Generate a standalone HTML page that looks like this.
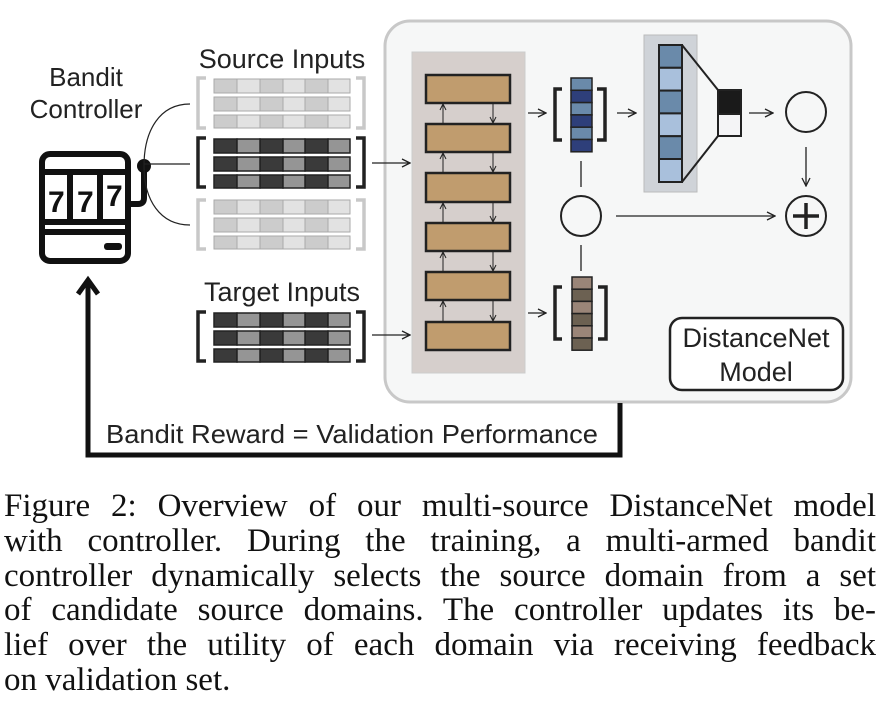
<!DOCTYPE html>
<html><head><meta charset="utf-8"><style>
body{margin:0;background:#fff;width:886px;height:728px;overflow:hidden;position:relative}
.cap{position:absolute;left:4px;top:489px;width:872px;font-family:"Liberation Serif",serif;font-size:33px;line-height:34.8px;color:#111}
.cap div{text-align:justify;text-align-last:justify;white-space:nowrap}
.cap div.l{text-align-last:left}
</style></head><body>
<svg width="886" height="480" style="position:absolute;left:0;top:0" font-family="Liberation Sans, sans-serif">
<defs>
<marker id="a" markerWidth="10" markerHeight="10" refX="9" refY="5" orient="auto" markerUnits="userSpaceOnUse"><path d="M1,1 L9,5 L1,9" fill="none" stroke="#222" stroke-width="1.3"/></marker>
<marker id="s" markerWidth="8" markerHeight="8" refX="7" refY="4" orient="auto" markerUnits="userSpaceOnUse"><path d="M1,1 L7,4 L1,7" fill="none" stroke="#222" stroke-width="1"/></marker>
</defs>
<rect x="385" y="21" width="466" height="381" rx="25" fill="#f6f7f7" stroke="#c8c8c8" stroke-width="3"/>
<rect x="412" y="52" width="113" height="321" fill="#d6cfcc" stroke="#ccc"/>
<g fill="#c09c6e" stroke="#222" stroke-width="2.5">
<rect x="426" y="75" width="84" height="28"/><rect x="426" y="124" width="84" height="28"/>
<rect x="426" y="173" width="84" height="29"/><rect x="426" y="223" width="84" height="28"/>
<rect x="426" y="272" width="84" height="28"/><rect x="426" y="322" width="84" height="28"/>
</g>
<g stroke="#222" stroke-width="1">
<line x1="443" y1="124" x2="443" y2="104" marker-end="url(#s)"/><line x1="493" y1="104" x2="493" y2="123" marker-end="url(#s)"/>
<line x1="443" y1="173" x2="443" y2="153" marker-end="url(#s)"/><line x1="493" y1="153" x2="493" y2="172" marker-end="url(#s)"/>
<line x1="443" y1="223" x2="443" y2="203" marker-end="url(#s)"/><line x1="493" y1="203" x2="493" y2="222" marker-end="url(#s)"/>
<line x1="443" y1="272" x2="443" y2="252" marker-end="url(#s)"/><line x1="493" y1="252" x2="493" y2="271" marker-end="url(#s)"/>
<line x1="443" y1="322" x2="443" y2="301" marker-end="url(#s)"/><line x1="493" y1="301" x2="493" y2="321" marker-end="url(#s)"/>
</g>
<g stroke="#222" stroke-width="1.3" fill="none">
<line x1="372" y1="163" x2="410" y2="163" marker-end="url(#a)"/>
<line x1="372" y1="335" x2="410" y2="335" marker-end="url(#a)"/>
<line x1="528" y1="113" x2="546" y2="113" marker-end="url(#a)"/>
<line x1="528" y1="313" x2="546" y2="313" marker-end="url(#a)"/>
<line x1="617" y1="113" x2="636" y2="113" marker-end="url(#a)"/>
<line x1="749" y1="113" x2="773" y2="113" marker-end="url(#a)"/>
<line x1="806" y1="147" x2="806" y2="186" marker-end="url(#a)"/>
<line x1="616" y1="216" x2="775" y2="216" marker-end="url(#a)"/>
<line x1="581" y1="161" x2="581" y2="187"/><line x1="581" y1="245" x2="581" y2="271"/>
</g>
<g stroke="#222" stroke-width="1.5">
<rect x="571" y="78" width="21" height="12.3" fill="#6a8aaa"/><rect x="571" y="90.3" width="21" height="12.3" fill="#2e3f7a"/>
<rect x="571" y="102.6" width="21" height="12.3" fill="#6a8aaa"/><rect x="571" y="114.9" width="21" height="12.3" fill="#2e3f7a"/>
<rect x="571" y="127.2" width="21" height="12.3" fill="#6a8aaa"/><rect x="571" y="139.5" width="21" height="12.3" fill="#2e3f7a"/>
<rect x="572" y="277" width="20" height="12.2" fill="#9a8578"/><rect x="572" y="289.2" width="20" height="12.2" fill="#6c6152"/>
<rect x="572" y="301.4" width="20" height="12.2" fill="#9a8578"/><rect x="572" y="313.6" width="20" height="12.2" fill="#6c6152"/>
<rect x="572" y="325.8" width="20" height="12.2" fill="#9a8578"/><rect x="572" y="338" width="20" height="12.2" fill="#6c6152"/>
</g>
<g stroke="#222" stroke-width="3.5" fill="none">
<path d="M562,89 H555 V140 H562"/><path d="M597,89 H605 V140 H597"/>
<path d="M562,287 H555 V339 H562"/><path d="M598,287 H606 V339 H598"/>
</g>
<rect x="644" y="35" width="53" height="157" fill="#cfd3d8" stroke="#bbb"/>
<g stroke="#222" stroke-width="2">
<rect x="659" y="45" width="23" height="22.8" fill="#6a8aaa"/><rect x="659" y="67.8" width="23" height="22.8" fill="#a9c0dc"/>
<rect x="659" y="90.6" width="23" height="22.8" fill="#6a8aaa"/><rect x="659" y="113.4" width="23" height="22.8" fill="#a9c0dc"/>
<rect x="659" y="136.2" width="23" height="22.8" fill="#6a8aaa"/><rect x="659" y="159" width="23" height="23" fill="#a9c0dc"/>
<line x1="682" y1="45" x2="718" y2="90"/><line x1="682" y1="182" x2="718" y2="136"/>
<rect x="718" y="90" width="23" height="24" fill="#1a1a1a"/><rect x="718" y="114" width="23" height="22" fill="#f4f4f6"/>
</g>
<g fill="none" stroke="#222" stroke-width="2">
<circle cx="806" cy="112" r="20"/><circle cx="806" cy="216" r="20"/><circle cx="581" cy="216" r="20"/>
</g>
<path d="M806,203 V229 M793,216 H819" stroke="#222" stroke-width="3.5"/>
<rect x="670" y="318" width="173" height="72" rx="12" fill="#fff" stroke="#222" stroke-width="2.5"/>
<text x="756" y="347" font-size="27" text-anchor="middle" fill="#222">DistanceNet</text>
<text x="756" y="381" font-size="27" text-anchor="middle" fill="#222">Model</text>
<text x="86" y="86" font-size="26" text-anchor="middle" fill="#222">Bandit</text>
<text x="86" y="118" font-size="26" text-anchor="middle" fill="#222">Controller</text>
<text x="282" y="68" font-size="27" text-anchor="middle" fill="#222">Source Inputs</text>
<text x="282" y="301" font-size="27" text-anchor="middle" fill="#222">Target Inputs</text>
<g id="lg" stroke="#aaa" stroke-width="1">
<g fill="#ccc"><rect x="214" y="79" width="23" height="14"/><rect x="260" y="79" width="23" height="14"/><rect x="305" y="79" width="23" height="14"/>
<rect x="214" y="97" width="23" height="14"/><rect x="260" y="97" width="23" height="14"/><rect x="305" y="97" width="23" height="14"/>
<rect x="214" y="115" width="23" height="13"/><rect x="260" y="115" width="23" height="13"/><rect x="305" y="115" width="23" height="13"/></g>
<g fill="#e2e2e2"><rect x="237" y="79" width="23" height="14"/><rect x="283" y="79" width="22" height="14"/><rect x="328" y="79" width="22" height="14"/>
<rect x="237" y="97" width="23" height="14"/><rect x="283" y="97" width="22" height="14"/><rect x="328" y="97" width="22" height="14"/>
<rect x="237" y="115" width="23" height="13"/><rect x="283" y="115" width="22" height="13"/><rect x="328" y="115" width="22" height="13"/></g>
</g>
<use href="#lg" y="121"/>
<g id="dg" stroke="#222" stroke-width="1.5">
<g fill="#3a3a3a"><rect x="214" y="139" width="23" height="14"/><rect x="260" y="139" width="23" height="14"/><rect x="305" y="139" width="23" height="14"/>
<rect x="214" y="157" width="23" height="14"/><rect x="260" y="157" width="23" height="14"/><rect x="305" y="157" width="23" height="14"/>
<rect x="214" y="175" width="23" height="13"/><rect x="260" y="175" width="23" height="13"/><rect x="305" y="175" width="23" height="13"/></g>
<g fill="#959595"><rect x="237" y="139" width="23" height="14"/><rect x="283" y="139" width="22" height="14"/><rect x="328" y="139" width="22" height="14"/>
<rect x="237" y="157" width="23" height="14"/><rect x="283" y="157" width="22" height="14"/><rect x="328" y="157" width="22" height="14"/>
<rect x="237" y="175" width="23" height="13"/><rect x="283" y="175" width="22" height="13"/><rect x="328" y="175" width="22" height="13"/></g>
</g>
<use href="#dg" y="174"/>
<g fill="none" stroke-width="3.5">
<path d="M206,78 H198 V128 H206 M356,78 H364 V128 H356" stroke="#c8c8c8"/>
<path d="M206,200 H198 V249 H206 M356,200 H364 V249 H356" stroke="#c8c8c8"/>
<path d="M206,138 H198 V187 H206 M356,138 H364 V187 H356" stroke="#222"/>
<path d="M206,312 H198 V361 H206 M356,312 H364 V361 H356" stroke="#222"/>
</g>
<g fill="none" stroke="#111" stroke-width="6">
<rect x="42" y="154" width="86" height="107" rx="8"/>
<line x1="42" y1="172" x2="128" y2="172"/><line x1="42" y1="222" x2="128" y2="222"/><line x1="42" y1="232" x2="128" y2="232"/>
<line x1="70" y1="172" x2="70" y2="222"/><line x1="100" y1="172" x2="100" y2="222"/>
<path d="M128,204 H138 Q144,204 144,198 V170"/>
</g>
<rect x="104" y="243" width="18" height="7" rx="3" fill="#111"/>
<circle cx="144" cy="166" r="7" fill="#111"/>
<g font-size="30" font-weight="bold" fill="#111"><text x="48" y="212">7</text><text x="77" y="212">7</text><text x="106" y="206">7</text></g>
<g fill="none" stroke="#222" stroke-width="1.2">
<path d="M144,166 C144,130 160,104 190,104"/><path d="M144,164 H190"/><path d="M144,166 C144,200 160,225 190,225"/>
</g>
<path d="M88,284 V455 H620 V403" fill="none" stroke="#111" stroke-width="5"/>
<path d="M78,294 L88,280 L98,294" fill="none" stroke="#111" stroke-width="5"/>
<text x="106" y="443" font-size="26" fill="#222" textLength="492" lengthAdjust="spacingAndGlyphs">Bandit Reward = Validation Performance</text>
</svg>
<div class="cap">
<div>Figure 2: Overview of our multi-source DistanceNet model</div>
<div>with controller. During the training, a multi-armed bandit</div>
<div>controller dynamically selects the source domain from a set</div>
<div>of candidate source domains. The controller updates its be-</div>
<div>lief over the utility of each domain via receiving feedback</div>
<div class="l">on validation set.</div>
</div>
</body></html>
